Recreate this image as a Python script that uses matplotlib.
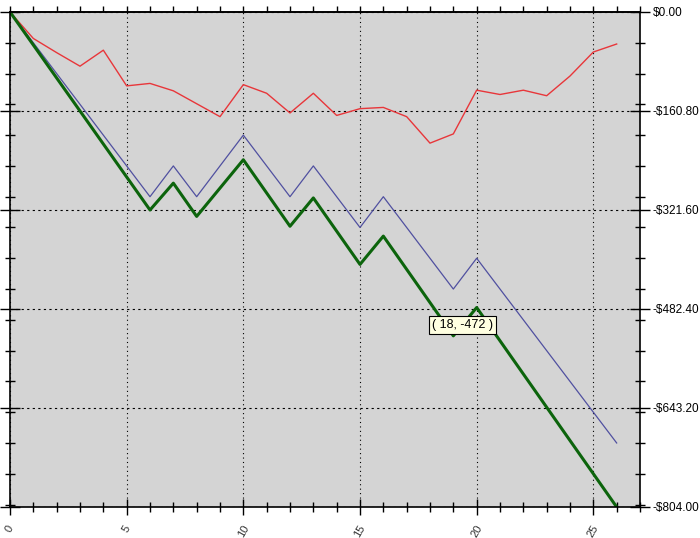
import numpy as np
import matplotlib
matplotlib.use("Agg")
import matplotlib.pyplot as plt
from matplotlib.ticker import MultipleLocator, FuncFormatter, NullFormatter

# Данные
trades = list(range(27))
red_vals = [0, -43, -66, -88, -62, -120, -116, -128, -149, -170, -118, -132, -164, -132,
            -168, -157, -155, -170, -213, -198, -127, -134, -127, -136, -104, -65, -52]
blue_vals = [0, -50, -100, -150, -200, -250, -300, -250, -300, -250, -200, -250, -300, -250,
             -300, -350, -300, -350, -400, -450, -400, -450, -500, -550, -600, -650, -700]
green_vals = [0, -53.6, -107.2, -160.8, -214.4, -268, -321.6, -278, -332, -286, -240, -294, -348, -302,
              -356, -410, -364, -418, -472, -526, -480, -534, -588, -642, -696, -750, -804]
y_major = 160.8
tooltip_text = "( 18, -472 )"

plt.rcParams['font.family'] = ['Liberation Sans', 'DejaVu Sans']

fig = plt.figure(figsize=(7.0, 5.38), dpi=100)
ax = fig.add_axes([10 / 700, 31 / 538, 630 / 700, 495 / 538])
ax.set_facecolor('#d4d4d4')

ax.plot(trades, red_vals, color='#e8363a', lw=1.0)
ax.plot(trades, blue_vals, color='#5050a0', lw=0.9)
ax.plot(trades, green_vals, color='#0c640c', lw=2.2)

ax.set_xlim(0, 27)
ax.set_ylim(-804, 0)

# Оси и деления
ax.xaxis.set_major_locator(MultipleLocator(5))
ax.xaxis.set_minor_locator(MultipleLocator(1))
ax.yaxis.set_major_locator(MultipleLocator(y_major))
ax.yaxis.set_minor_locator(MultipleLocator(50))
ax.yaxis.set_major_formatter(FuncFormatter(
    lambda v, p: ('-$%.2f' % abs(v)) if v < -0.001 else '$0.00'))

ax.tick_params(axis='y', which='both', left=True, right=True, labelleft=False,
               labelright=True, direction='inout', labelsize=8.5, pad=2)
ax.tick_params(axis='y', which='major', length=14, width=1)
ax.tick_params(axis='y', which='minor', length=7, width=1)
ax.tick_params(axis='x', which='both', bottom=True, top=False, direction='inout',
               labelsize=8, colors='black')
ax.tick_params(axis='x', which='major', length=12, width=1, pad=6)
ax.tick_params(axis='x', which='minor', length=7, width=1)
for lbl in ax.get_xticklabels():
    lbl.set_rotation(60)
    lbl.set_color('#333333')

# верхние деления наружу
top = ax.secondary_xaxis('top')
top.xaxis.set_major_locator(MultipleLocator(1))
top.xaxis.set_major_formatter(NullFormatter())
top.tick_params(axis='x', direction='out', length=4, width=1)

ax.grid(True, axis='x', color='black', linestyle=(0, (1, 3)), lw=0.8)
ax.grid(True, axis='y', color='black', linestyle=(0, (2, 3)), lw=0.8)
for s in ax.spines.values():
    s.set_linewidth(1.2)
top.spines['top'].set_linewidth(1.2)

# Подсказка
ax.text(18.1, -508, tooltip_text, ha='left', va='center', fontsize=9,
        bbox=dict(boxstyle='square,pad=0.25', fc='#ffffe1', ec='black', lw=0.8))

fig.savefig('out.png', dpi=100, facecolor='white')
